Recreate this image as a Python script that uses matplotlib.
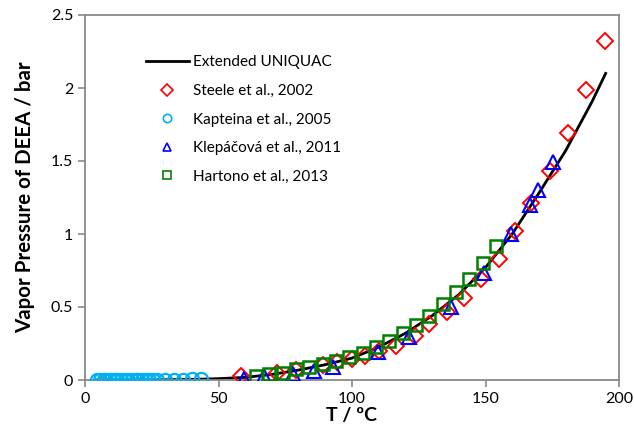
import matplotlib
matplotlib.use("Agg")
import matplotlib.pyplot as plt

plt.rcParams['font.family'] = ['Lato', 'DejaVu Sans']

# Extended UNIQUAC model curve
model_T = [4, 10, 20, 30, 40, 50, 60, 70, 80, 90, 100, 110, 120, 130, 140, 150, 160, 170, 180, 190, 195]
model_P = [0.0003, 0.0005, 0.001, 0.002, 0.004, 0.009, 0.018, 0.038, 0.068, 0.105, 0.15, 0.225,
           0.32, 0.44, 0.585, 0.77, 1.0, 1.28, 1.57, 1.91, 2.10]

# Steele et al., 2002
steele_T = [58.5, 72, 79, 89, 94.5, 100, 105, 110, 116.5, 123.5, 129, 135.5, 142, 148.5,
            155, 161, 167, 174, 181, 187.7, 194.7]
steele_P = [0.025, 0.045, 0.07, 0.10, 0.12, 0.145, 0.165, 0.20, 0.235, 0.30, 0.385, 0.465,
            0.565, 0.69, 0.83, 1.02, 1.21, 1.43, 1.69, 1.985, 2.32]

# Kapteina et al., 2005
kapteina_T = [4.4, 5.5, 7, 8, 9.5, 11, 12, 13.5, 15, 16, 17.5, 19, 20, 21.5, 23, 24, 25.5,
              27, 30, 33.4, 36.8, 40.1, 43.6]
kapteina_P = [0.0003, 0.0003, 0.0004, 0.0004, 0.0005, 0.0005, 0.0006, 0.0007, 0.0008, 0.0008,
              0.0009, 0.001, 0.0011, 0.0012, 0.0014, 0.0015, 0.0016, 0.0018, 0.0022, 0.0027,
              0.0034, 0.0042, 0.0052]

# Klepáčová et al., 2011
klep_T = [59.6, 67.2, 78, 85.6, 93, 109.7, 121.2, 137, 149.5, 159.6, 166.7, 169.7, 175.3]
klep_P = [0.01, 0.025, 0.04, 0.065, 0.09, 0.19, 0.295, 0.5, 0.735, 1.0, 1.2, 1.30, 1.49]

# Hartono et al., 2013
hart_T = [64, 69, 74, 79, 84, 89, 94, 99, 104, 109, 114, 119, 124, 129, 134, 139, 144, 149, 154]
hart_P = [0.027, 0.04, 0.05, 0.075, 0.087, 0.11, 0.13, 0.16, 0.187, 0.226, 0.27, 0.32, 0.377,
          0.438, 0.52, 0.60, 0.695, 0.80, 0.92]

fig = plt.figure(figsize=(6.34, 4.46), dpi=100)
ax = fig.add_axes([85 / 634, 1 - 380 / 446, (619 - 85) / 634, (380 - 15) / 446])

ax.plot(model_T, model_P, color='black', lw=2, label='Extended UNIQUAC', zorder=2)
ax.plot(steele_T, steele_P, ls='none', marker='D', ms=8.3, mfc='none', mec='#FF0000',
        mew=1.4, label='Steele et al., 2002', zorder=3)
ax.plot(kapteina_T, kapteina_P, ls='none', marker='o', ms=9.5, mfc='none', mec='#00B0F0',
        mew=1.6, label='Kapteina et al., 2005', zorder=3)
ax.plot(klep_T, klep_P, ls='none', marker='^', ms=10, mfc='none', mec='#0000FF',
        mew=1.5, label='Klepáčová et al., 2011', zorder=3)
ax.plot(hart_T, hart_P, ls='none', marker='s', ms=8.5, mfc='none', mec='#008000',
        mew=1.8, label='Hartono et al., 2013', zorder=3)

ax.set_xlim(0, 200)
ax.set_ylim(0, 2.5)
ax.set_xticks([0, 50, 100, 150, 200])
ax.set_xticklabels(['0', '50', '100', '150', '200'])
ax.set_yticks([0, 0.5, 1, 1.5, 2, 2.5])
ax.set_yticklabels(['0', '0.5', '1', '1.5', '2', '2.5'])

for s in ax.spines.values():
    s.set_color('#898989')
    s.set_linewidth(1.3)
ax.tick_params(direction='out', length=5, width=1.2, color='#898989', labelsize=11.5,
               labelcolor='black')

ax.set_xlabel('T / ºC', fontsize=14, fontweight='bold', labelpad=1)
ax.set_ylabel('Vapor Pressure of DEEA / bar', fontsize=14.8, fontweight='bold', labelpad=11)

leg = ax.legend(loc='upper left', bbox_to_anchor=(0.1, 0.91), frameon=False, fontsize=11,
                handlelength=2.8, handletextpad=0.3, labelspacing=0.95, borderpad=0,
                numpoints=1)
for h in leg.legend_handles[1:]:
    h.set_markersize(6)
    h.set_markeredgewidth(1.2)

fig.savefig('out.png', dpi=100)
